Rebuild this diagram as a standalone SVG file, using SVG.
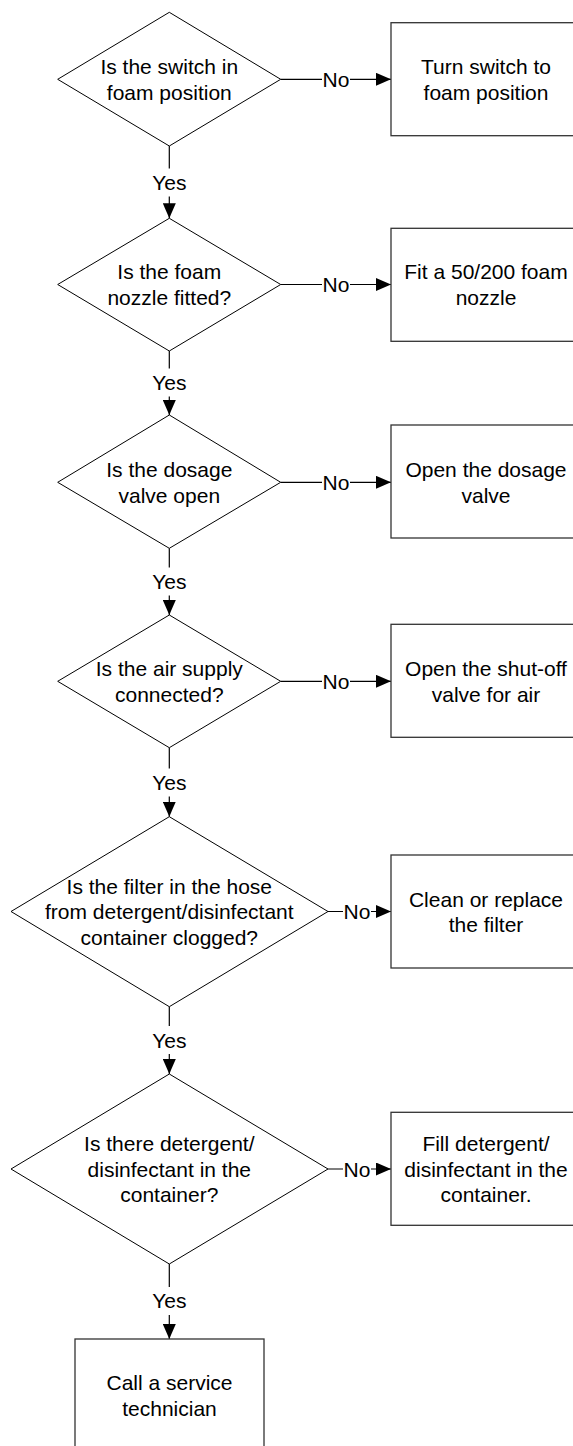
<svg xmlns="http://www.w3.org/2000/svg" width="573" height="1446" viewBox="0 0 573 1446">
  <style>
    text { font-family: "Liberation Sans", Arial, sans-serif; font-size: 21px; fill: #000; text-anchor: middle; }
    .dia { fill: #fff; stroke: #000; stroke-width: 1; }
    .box { fill: #fff; stroke: #333; stroke-width: 1.3; }
    .conn { fill: none; stroke: #000; stroke-width: 1.2; marker-end: url(#arrow); }
    .lblbg { fill: #fff; stroke: none; }
  </style>
  <defs>
    <marker id="arrow" markerUnits="userSpaceOnUse" markerWidth="15" markerHeight="13" refX="15" refY="6.5" orient="auto">
      <path d="M0,0 L15,6.5 L0,13 Z" fill="#000"/>
    </marker>
  </defs>
  <rect width="573" height="1446" fill="#fff"/>

  <g id="connectors">
    <path class="conn" d="M280.7,79.3 H391"/>
    <path class="conn" d="M280.7,284.5 H391"/>
    <path class="conn" d="M280.7,482.3 H391"/>
    <path class="conn" d="M280.7,681.3 H391"/>
    <path class="conn" d="M328,911.5 H391"/>
    <path class="conn" d="M328,1169 H391"/>
    <path class="conn" d="M169.3,146 V218.3"/>
    <path class="conn" d="M169.3,351 V415"/>
    <path class="conn" d="M169.3,548.3 V615"/>
    <path class="conn" d="M169.3,747.7 V816.7"/>
    <path class="conn" d="M169.3,1006.7 V1074"/>
    <path class="conn" d="M169.3,1264 V1339"/>
    <g id="labels">
      <rect class="lblbg" x="322" y="68" width="28" height="22"/><text x="336" y="86.8">No</text>
      <rect class="lblbg" x="322" y="273" width="28" height="22"/><text x="336" y="292">No</text>
      <rect class="lblbg" x="322" y="471" width="28" height="22"/><text x="336" y="489.8">No</text>
      <rect class="lblbg" x="322" y="670" width="28" height="22"/><text x="336" y="688.8">No</text>
      <rect class="lblbg" x="343" y="900" width="28" height="22"/><text x="357" y="919">No</text>
      <rect class="lblbg" x="343" y="1158" width="28" height="22"/><text x="357" y="1176.5">No</text>
      <rect class="lblbg" x="150" y="168.5" width="38" height="28"/><text x="169.3" y="190.2">Yes</text>
      <rect class="lblbg" x="150" y="368.5" width="38" height="28"/><text x="169.3" y="390.2">Yes</text>
      <rect class="lblbg" x="150" y="567.5" width="38" height="28"/><text x="169.3" y="589.2">Yes</text>
      <rect class="lblbg" x="150" y="768.5" width="38" height="28"/><text x="169.3" y="790.2">Yes</text>
      <rect class="lblbg" x="150" y="1026" width="38" height="28"/><text x="169.3" y="1047.5">Yes</text>
      <rect class="lblbg" x="150" y="1287" width="38" height="28"/><text x="169.3" y="1308.2">Yes</text>
    </g>
  </g>

  <g id="q1">
    <polygon class="dia" points="169.3,12.3 280.7,79.3 169.3,146 57.7,79.3"/>
    <text x="169.3" y="74">Is the switch in</text>
    <text x="169.3" y="99.5">foam position</text>
  </g>
  <g id="a1">
    <rect class="box" x="391" y="22.7" width="190" height="113"/>
    <text x="486" y="74">Turn switch to</text>
    <text x="486" y="99.5">foam position</text>
  </g>

  <g id="q2">
    <polygon class="dia" points="169.3,218.3 280.7,284.5 169.3,351 57.7,284.5"/>
    <text x="169.3" y="279.2">Is the foam</text>
    <text x="169.3" y="304.7">nozzle fitted?</text>
  </g>
  <g id="a2">
    <rect class="box" x="391" y="228.3" width="190" height="113"/>
    <text x="486" y="279.2">Fit a 50/200 foam</text>
    <text x="486" y="304.7">nozzle</text>
  </g>

  <g id="q3">
    <polygon class="dia" points="169.3,415 280.7,482.3 169.3,548.3 57.7,482.3"/>
    <text x="169.3" y="477">Is the dosage</text>
    <text x="169.3" y="502.5">valve open</text>
  </g>
  <g id="a3">
    <rect class="box" x="391" y="425" width="190" height="113"/>
    <text x="486" y="477">Open the dosage</text>
    <text x="486" y="502.5">valve</text>
  </g>

  <g id="q4">
    <polygon class="dia" points="169.3,615 280.7,681.3 169.3,747.7 57.7,681.3"/>
    <text x="169.3" y="676">Is the air supply</text>
    <text x="169.3" y="701.5">connected?</text>
  </g>
  <g id="a4">
    <rect class="box" x="391" y="624.3" width="190" height="113"/>
    <text x="486" y="676">Open the shut-off</text>
    <text x="486" y="701.5">valve for air</text>
  </g>

  <g id="q5">
    <polygon class="dia" points="169.3,816.7 328,911.5 169.3,1006.7 11,911.5"/>
    <text x="169.3" y="893.5">Is the filter in the hose</text>
    <text x="169.3" y="919">from detergent/disinfectant</text>
    <text x="169.3" y="944.5">container clogged?</text>
  </g>
  <g id="a5">
    <rect class="box" x="391" y="855" width="190" height="113"/>
    <text x="486" y="906.5">Clean or replace</text>
    <text x="486" y="932">the filter</text>
  </g>

  <g id="q6">
    <polygon class="dia" points="169.3,1074 328,1169 169.3,1264 11,1169"/>
    <text x="169.3" y="1151">Is there detergent/</text>
    <text x="169.3" y="1176.5">disinfectant in the</text>
    <text x="169.3" y="1202">container?</text>
  </g>
  <g id="a6">
    <rect class="box" x="391" y="1112.3" width="190" height="113"/>
    <text x="486" y="1151">Fill detergent/</text>
    <text x="486" y="1176.5">disinfectant in the</text>
    <text x="486" y="1202">container.</text>
  </g>

  <g id="end">
    <rect class="box" x="75" y="1339" width="189" height="113"/>
    <text x="169.5" y="1390">Call a service</text>
    <text x="169.5" y="1415.5">technician</text>
  </g>
</svg>
